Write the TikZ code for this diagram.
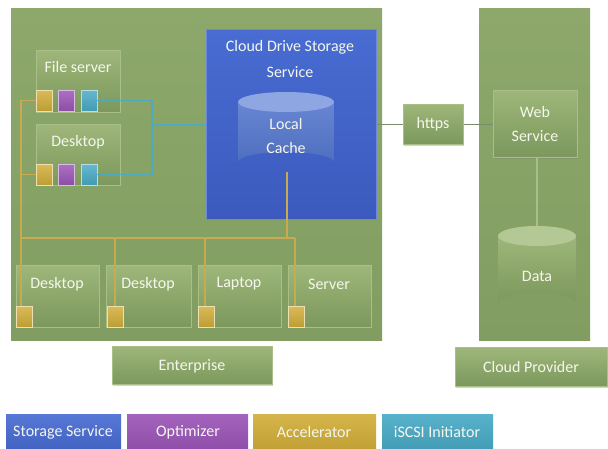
\documentclass[tikz,border=0pt]{standalone}
\usepackage{fontspec}
\setmainfont{Carlito}
\usetikzlibrary{shadows}
\definecolor{grnBg}{RGB}{141,168,106}
\definecolor{grnBgD}{RGB}{130,157,97}
\definecolor{grnT}{RGB}{158,182,122}
\definecolor{grnB}{RGB}{124,152,92}
\definecolor{grnE}{RGB}{168,192,136}
\definecolor{blueT}{RGB}{72,108,210}
\definecolor{blueB}{RGB}{60,90,190}
\definecolor{cacheB}{RGB}{86,120,206}
\definecolor{cacheTop}{RGB}{142,166,226}
\definecolor{purp}{RGB}{156,86,184}
\definecolor{yel}{RGB}{210,174,58}
\definecolor{cyn}{RGB}{74,171,198}
\definecolor{yline}{RGB}{200,170,80}
\definecolor{cline}{RGB}{80,170,190}
\definecolor{gline}{RGB}{120,140,110}
\definecolor{dataTop}{RGB}{180,200,150}
\definecolor{txt}{RGB}{245,247,238}
\begin{document}
\begin{tikzpicture}[x=1pt,y=-1pt,
  every node/.style={font=\fontsize{16}{24}\selectfont, text=txt, align=center},
  area/.style={rectangle, inner sep=0pt, anchor=north west, top color=grnBg, bottom color=grnBgD, draw=none},
  gbox/.style={rectangle, inner sep=0pt, anchor=north west, top color=grnT, bottom color=grnB, draw=grnE, line width=0.6pt},
  lbox/.style={gbox, drop shadow={opacity=0.35, shadow xshift=1pt, shadow yshift=-1.5pt}},
  sq/.style={rectangle, inner sep=0pt, anchor=north west, minimum width=16pt, minimum height=21pt, draw=white!60!#1, line width=0.4pt, top color=#1!85!white, bottom color=#1!90!black},
  leg/.style={rectangle, inner sep=0pt, anchor=north west, minimum height=34pt, top color=#1!92!white, bottom color=#1!92!black},
  yl/.style={draw=yline, line width=1.1pt},
  cl/.style={draw=cline, line width=1.1pt},
  gl/.style={draw=gline, line width=1.1pt}
]
\useasboundingbox (0,0) rectangle (608,449);
\fill[white] (0,0) rectangle (608,449);

% big areas
\node[area, minimum width=371pt, minimum height=332pt] (ent) at (11,8) {};
\node[area, minimum width=111pt, minimum height=332pt] (cp) at (479,8) {};

% blue storage service
\node[rectangle, inner sep=0pt, anchor=north west, minimum width=170pt, minimum height=190pt, top color=blueT, bottom color=blueB, draw=blueT!80!white, line width=0.5pt] (cds) at (206,29) {};
\node at (290,47) {Cloud Drive Storage};
\node at (290,72) {Service};

% local cache cylinder
\shade[top color=cacheB!90!white, bottom color=cacheB!92!black] (238,102) -- (238,162) arc[x radius=48, y radius=10, start angle=180, end angle=360] -- (334,102) -- cycle;
\fill[cacheTop] (286,102) ellipse[x radius=48, y radius=10];
\node (cache) at (286,136) {Local\\Cache};
\coordinate (cacheBot) at (287,172);

% file server & desktop
\node[gbox, minimum width=84pt, minimum height=62pt] (fs) at (36,50) {};
\node at (78,67) {File server};
\node[gbox, minimum width=84pt, minimum height=61pt] (dk) at (36,124) {};
\node at (78,142) {Desktop};
\node[sq=yel] (fsY) at (36,90) {};
\node[sq=purp] (fsP) at (58,90) {};
\node[sq=cyn] (fsC) at (81,90) {};
\node[sq=yel] (dkY) at (36,164) {};
\node[sq=purp] (dkP) at (58,164) {};
\node[sq=cyn] (dkC) at (81,164) {};

% bottom devices
\node[gbox, minimum width=83pt, minimum height=62pt] (b1) at (16,265) {};
\node at (57,284) {Desktop};
\node[gbox, minimum width=85pt, minimum height=62pt] (b2) at (106,265) {};
\node at (148,284) {Desktop};
\node[gbox, minimum width=83pt, minimum height=62pt] (b3) at (198,265) {};
\node at (239,284) {Laptop};
\node[gbox, minimum width=83pt, minimum height=62pt] (b4) at (288,265) {};
\node at (329,284) {Server};
\node[sq=yel] (b1Y) at (16,306) {};
\node[sq=yel] (b2Y) at (107,306) {};
\node[sq=yel] (b3Y) at (198,306) {};
\node[sq=yel] (b4Y) at (288,306) {};

% https and cloud side
\node[lbox, minimum width=60pt, minimum height=40pt] (https) at (403,104) {};
\node at (433,124) {https};
\node[lbox, minimum width=84pt, minimum height=67pt] (web) at (493,90) {};
\node at (535,124) {Web\\Service};

% data cylinder
\shade[top color=grnT, bottom color=grnB] (498,236) -- (498,303) arc[x radius=39, y radius=10, start angle=180, end angle=360] -- (576,236) -- cycle;
\fill[dataTop] (537,236) ellipse[x radius=39, y radius=10];
\node (data) at (537,276) {Data};
\coordinate (dataTopC) at (537,226);

% labels
\node[lbox, minimum width=160pt, minimum height=38pt] (entL) at (112,346) {};
\node at (192,366) {Enterprise};
\node[lbox, minimum width=152pt, minimum height=39pt] (cpL) at (455,347) {};
\node at (531,367) {Cloud Provider};

% legend
\node[leg=blueT, minimum width=115pt] (l1) at (6,414) {};
\node at (63,432) {Storage Service};
\node[leg=purp, minimum width=121pt] (l2) at (127,414) {};
\node at (188,432) {Optimizer};
\node[leg=yel, minimum width=123pt] (l3) at (253,414) {};
\node at (314,432) {Accelerator};
\node[leg=cyn, minimum width=111pt] (l4) at (382,414) {};
\node at (437,432) {iSCSI Initiator};

% connectors: iSCSI (cyan)
\coordinate (jc) at (152,125);
\draw[cl] (fsC.east) -| (jc);
\draw[cl] (dkC.east) -| (jc);
\draw[cl] (jc) -- (cds.west |- jc);

% connectors: accelerator bus (yellow)
\coordinate (busL) at (21,238);
\coordinate (busR) at (295,238);
\draw[yl] (busL) -- (busR);
\draw[yl] (fsY.west) -| (busL);
\draw[yl] (dkY.west) -- (dkY.west -| busL);
\draw[yl] (cacheBot) -- (cacheBot |- busL);
\draw[yl] (busL) -- (busL |- b1Y.north);
\draw[yl] (b2Y.north -| 115,0) -- (busL -| 115,0);
\draw[yl] (b3Y.north -| 205,0) -- (busL -| 205,0);
\draw[yl] (busR) -- (busR |- b4Y.north);

% https connectors
\draw[gl] (cds.east |- https.west) -- (https.west);
\draw[gl] (https.east) -- (web.west |- https.east);
\draw[draw=grnE, line width=1.5pt] (web.south -| dataTopC) -- (dataTopC);
\end{tikzpicture}
\end{document}
